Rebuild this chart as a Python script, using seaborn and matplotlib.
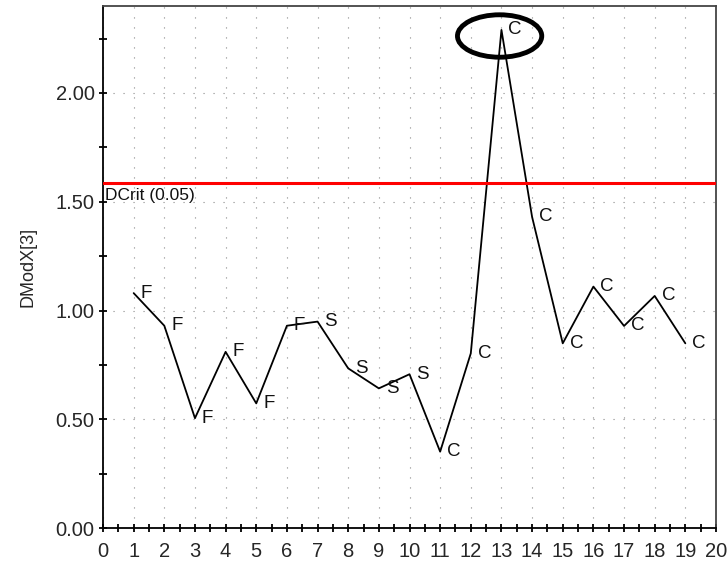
import numpy as np
import pandas as pd
import matplotlib
matplotlib.use("Agg")
import matplotlib.pyplot as plt
from matplotlib.patches import Ellipse
from matplotlib.ticker import MultipleLocator, FormatStrFormatter
import seaborn as sns

# Data
obs = [1, 2, 3, 4, 5, 6, 7, 8, 9, 10, 11, 12, 13, 14, 15, 16, 17, 18, 19]
dmodx = [1.08, 0.93, 0.505, 0.81, 0.573, 0.93, 0.949, 0.734, 0.642, 0.707,
         0.351, 0.803, 2.29, 1.43, 0.849, 1.11, 0.929, 1.067, 0.849]
labels = ["F", "F", "F", "F", "F", "F", "S", "S", "S", "S",
          "C", "C", "C", "C", "C", "C", "C", "C", "C"]
dcrit = 1.588
dcrit_label = "DCrit (0.05)"
ylabel = "DModX[3]"

sns.set_theme(style="white")
plt.rcParams['font.family'] = ['Liberation Sans', 'DejaVu Sans']

df = pd.DataFrame({"obs": obs, "dmodx": dmodx, "label": labels})

fig = plt.figure(figsize=(7.28, 5.64), dpi=100)
ax = fig.add_axes([0.1415, 0.0638, 0.842, 0.9256])

sns.lineplot(data=df, x="obs", y="dmodx", color="black", linewidth=1.3, ax=ax)

for xi, yi, lab in zip(df["obs"], df["dmodx"], df["label"]):
    ax.annotate(lab, (xi, yi), xytext=(5, 0), textcoords="offset points",
                ha="left", va="center", fontsize=13.5, color="#111111")

ax.axhline(dcrit, color="#ff0000", linewidth=2.2, zorder=3)
ax.text(0.07, dcrit - 0.025, dcrit_label, ha="left", va="top", fontsize=12.5,
        color="#111111")

ax.set_xlim(0, 20)
ax.set_ylim(0, 2.4)
ax.xaxis.set_major_locator(MultipleLocator(1))
ax.xaxis.set_minor_locator(MultipleLocator(0.5))
ax.yaxis.set_major_locator(MultipleLocator(0.5))
ax.yaxis.set_minor_locator(MultipleLocator(0.25))
ax.yaxis.set_major_formatter(FormatStrFormatter("%.2f"))

ax.grid(True, which="major", color="#8a8a8a", linestyle=(0, (1, 8)), linewidth=0.8)
ax.set_axisbelow(True)

ax.tick_params(axis="both", which="both", direction="inout", length=6, width=1.3,
               color="black", labelsize=14.5, bottom=True, left=True)
ax.tick_params(axis="x", pad=7)
ax.tick_params(axis="y", pad=3)

for s in ["left", "bottom"]:
    ax.spines[s].set_color("black")
    ax.spines[s].set_linewidth(1.3)
for s in ["top", "right"]:
    ax.spines[s].set_color("#444444")
    ax.spines[s].set_linewidth(1.3)

ax.set_xlabel("")
ax.set_ylabel(ylabel, fontsize=13, labelpad=14)

ell = Ellipse((12.94, 2.262), width=2.75, height=0.195, fill=False,
              edgecolor="black", linewidth=3.5, clip_on=False, zorder=5)
ax.add_patch(ell)

fig.savefig("out.png", dpi=100)
